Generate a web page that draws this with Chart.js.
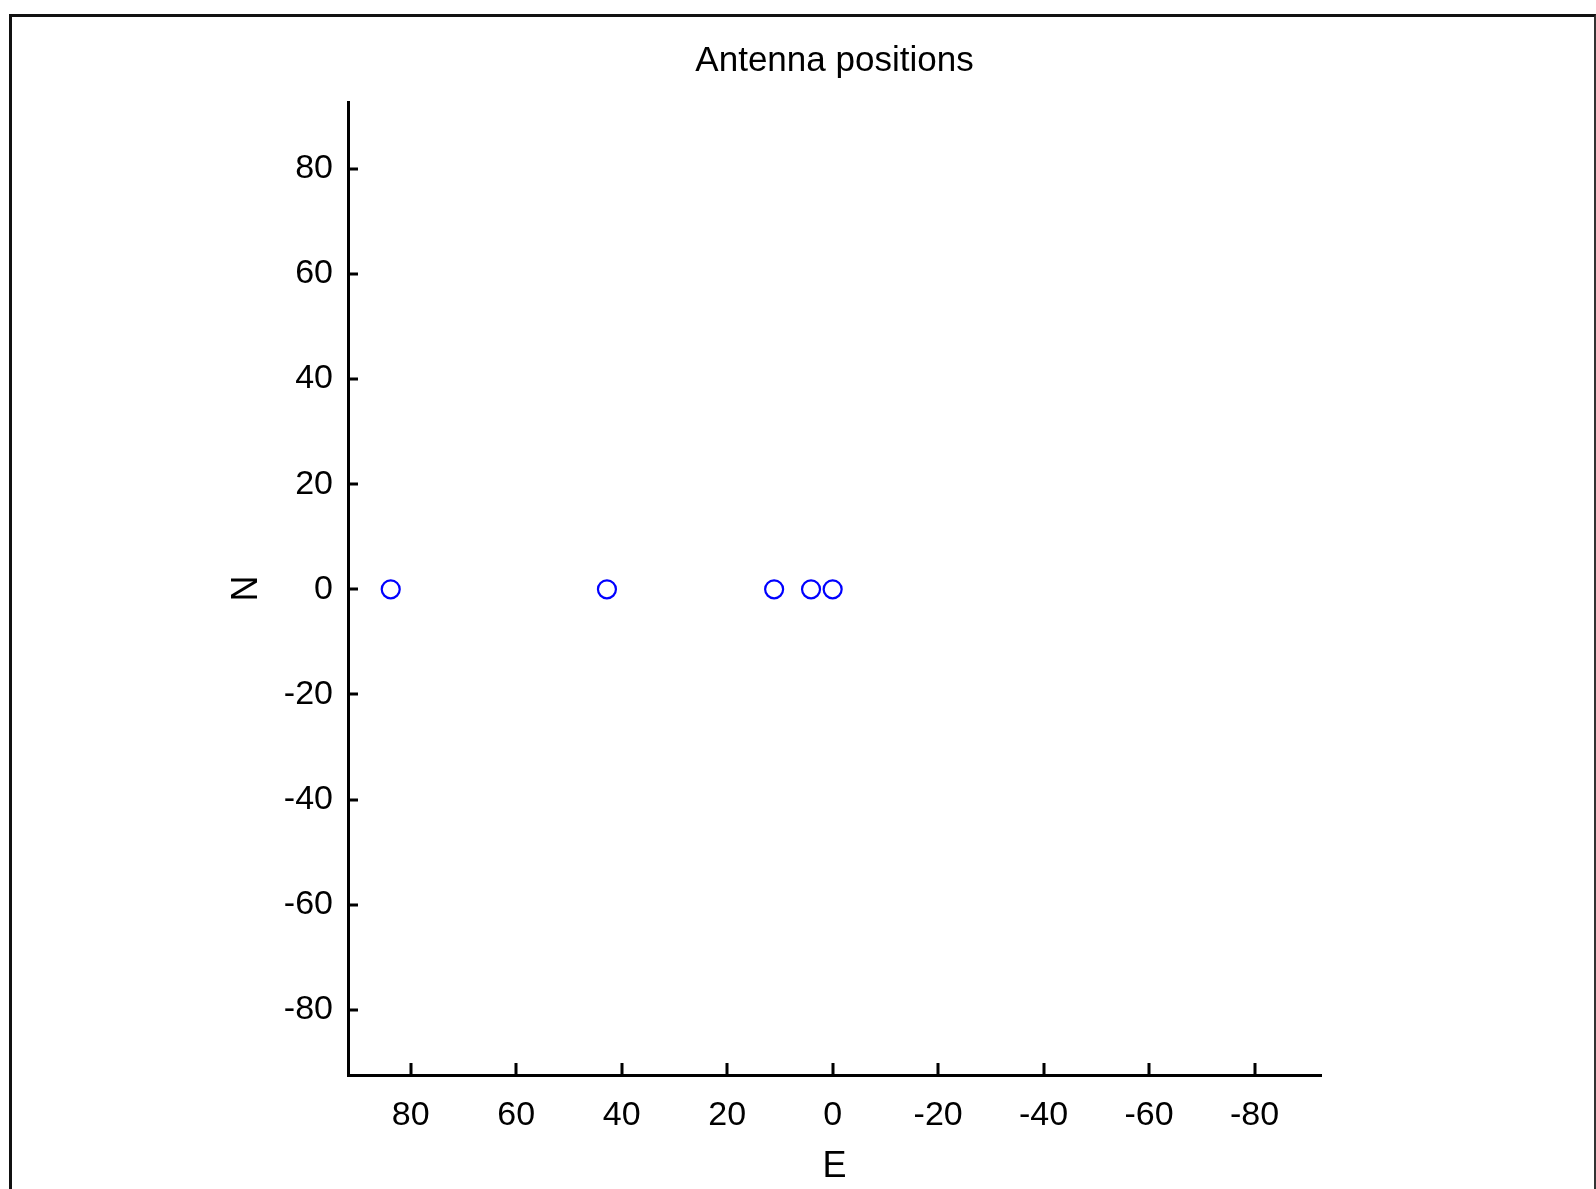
<!DOCTYPE html>
<html>
<head>
<meta charset="utf-8">
<title>Antenna positions</title>
<script src="https://cdn.jsdelivr.net/npm/chart.js@4/dist/chart.umd.min.js"></script>
<style>
  html, body { margin: 0; padding: 0; background: #fff; overflow: hidden; }
  #wrap { position: relative; width: 1596px; height: 1189px; }
  #frame {
    position: absolute; left: 9px; top: 14px; width: 1587px; height: 1300px;
    box-sizing: border-box;
    border-top: 3px solid #111; border-left: 3px solid #111; border-right: 2px solid #333;
    pointer-events: none;
  }
  canvas { position: absolute; left: 0; top: 0; }
</style>
</head>
<body>
<div id="wrap">
  <div id="frame"></div>
  <canvas id="chart" width="1596" height="1189"></canvas>
</div>
<script>
// Antenna offsets from the array centre, in metres
const eastPositions  = [83.8, 42.8, 11.1, 4.1, 0];
const northPositions = [0, 0, 0, 0, 0];

// Axis tick values
const eastTicks  = [80, 60, 40, 20, 0, -20, -40, -60, -80];
const northTicks = [80, 60, 40, 20, 0, -20, -40, -60, -80];

const points = eastPositions.map((e, i) => ({ x: e, y: northPositions[i] }));

const FONT = "'Liberation Sans', Arial, sans-serif";

// Short tick marks drawn on the inside of both axes
const innerTicks = {
  id: 'innerTicks',
  afterDraw(chart) {
    const { ctx, chartArea } = chart;
    const xs = chart.scales.x, ys = chart.scales.y;
    ctx.save();
    ctx.strokeStyle = '#000';
    ctx.lineWidth = 3;
    ctx.lineCap = 'butt';
    ctx.beginPath();
    eastTicks.forEach(v => {
      const px = Math.round(xs.getPixelForValue(v));
      ctx.moveTo(px, chartArea.bottom);
      ctx.lineTo(px, chartArea.bottom - 12);
    });
    northTicks.forEach(v => {
      const py = Math.round(ys.getPixelForValue(v));
      ctx.moveTo(chartArea.left, py);
      ctx.lineTo(chartArea.left + 10, py);
    });
    ctx.stroke();
    ctx.restore();
  }
};

new Chart(document.getElementById('chart'), {
  type: 'scatter',
  data: {
    datasets: [{
      label: 'Antennas',
      data: points,
      pointStyle: 'circle',
      pointRadius: 9,
      pointHoverRadius: 9,
      borderWidth: 2.2,
      borderColor: '#0000ff',
      backgroundColor: 'rgba(0,0,0,0)'
    }]
  },
  options: {
    responsive: false,
    animation: false,
    events: [],
    layout: { padding: { left: 0, right: 275, top: 0, bottom: 0 } },
    plugins: {
      legend: { display: false },
      tooltip: { enabled: false },
      title: {
        display: true,
        text: 'Antenna positions',
        fullSize: false,
        color: '#000',
        font: { family: FONT, size: 35, weight: 'normal', lineHeight: 1.2 },
        padding: { top: 40, bottom: 20 }
      }
    },
    scales: {
      x: {
        type: 'linear',
        position: 'bottom',
        reverse: true,
        min: -92.6,
        max: 91.9,
        grid: { display: false, drawTicks: false },
        border: { display: true, color: '#000', width: 3 },
        afterBuildTicks(scale) { scale.ticks = eastTicks.map(v => ({ value: v })); },
        afterFit(scale) { scale.height = 114; },
        ticks: {
          color: '#000',
          padding: 20,
          maxRotation: 0,
          autoSkip: false,
          font: { family: FONT, size: 34, lineHeight: 1.2 },
          callback: v => String(v)
        },
        title: {
          display: true,
          text: 'E',
          color: '#000',
          font: { family: FONT, size: 36, lineHeight: 1.2 },
          padding: { top: 0, bottom: 0 }
        }
      },
      y: {
        type: 'linear',
        position: 'left',
        min: -92.4,
        max: 92.7,
        grid: { display: false, drawTicks: false },
        border: { display: true, color: '#000', width: 3 },
        afterBuildTicks(scale) { scale.ticks = northTicks.map(v => ({ value: v })); },
        afterFit(scale) { scale.width = 348; },
        ticks: {
          color: '#000',
          padding: 15,
          autoSkip: false,
          font: { family: FONT, size: 34, lineHeight: 1.2 },
          callback: v => String(v)
        },
        title: {
          display: true,
          text: 'N',
          color: '#000',
          font: { family: FONT, size: 36, lineHeight: 1.2 },
          padding: { top: 225, bottom: 0 }
        }
      }
    }
  },
  plugins: [innerTicks]
});
</script>
</body>
</html>
